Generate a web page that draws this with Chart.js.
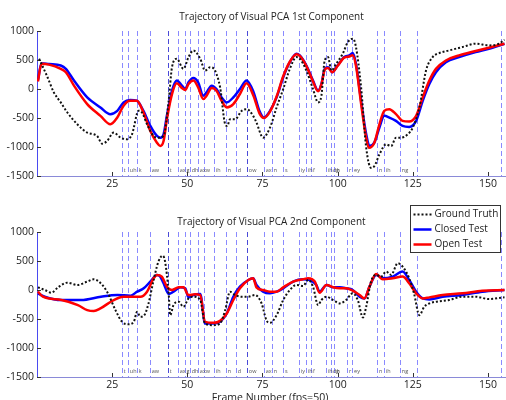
<!DOCTYPE html>
<html><head><meta charset="utf-8">
<script src="https://cdn.jsdelivr.net/npm/chart.js@4.4.1/dist/chart.umd.min.js"></script>
<style>
body{margin:0;background:#fff;width:506px;height:400px;overflow:hidden;position:relative}
.c{position:absolute;left:0;width:506px;height:200px}
</style>
</head><body>
<div class="c" style="top:0"><canvas id="c1"></canvas></div>
<div class="c" style="top:200px"><canvas id="c2"></canvas></div>
<script>
// ---------- data ----------
const titleTop = "Trajectory of Visual PCA 1st Component";
const titleBottom = "Trajectory of Visual PCA 2nd Component";
const xAxisTitle = "Frame Number (fps=50)";
const seriesNames = ["Ground Truth", "Closed Test", "Open Test"];
const xTicks = [25, 50, 75, 100, 125, 150];
const yTicks = [-1500, -1000, -500, 0, 500, 1000];

// phoneme boundaries (frame) and labels that follow them
const boundaryFrames = [28.2,30.2,33.2,37.5,43.5,46.8,49.1,50.8,53.5,55.5,58.8,62.8,66.1,69.8,75.4,78.1,81.8,87.1,89.4,91.1,96.1,97.8,98.8,103.1,104.8,113.1,115.4,120.7,126.4,154.3];
const phonemeLabels  = ["t","uh","k","aw","t","ax","g","dh","ax","w","ih","n","d","ow","ax","n","s","iy","ih","f","ih","dh","g","r","ey","n","ih","ng","",""];
const wordBoundaries = [43.5, 69.8];

// 1st component
const gt1X = [0.7,3.5,5.6,7.9,10.1,13.4,16.7,18.9,20,21.7,23.3,25.5,27.8,30,31.6,33.8,34.9,36.6,38.8,40.4,42.1,43.8,44.9,46.5,48.7,50.4,52,54.3,55.9,57.6,59.2,60.9,62.6,63.3,64.2,65.9,68.1,69.7,71.9,73,75.2,77.5,79.7,81.9,84.1,86.3,87.4,89.6,91.8,93.5,94.6,95.7,96.8,97.9,99.5,101.7,103.4,105.1,106.1,107.8,109.5,111.1,112.2,113.9,116.1,117.8,119.4,121.1,123.3,125,127.2,129.4,131.6,133.8,137.1,141.5,145.9,150.3,153.7,155.5];
const gt1Y = [521,203,-58,-231,-405,-608,-752,-781,-810,-943,-897,-752,-839,-868,-781,-376,-405,-608,-810,-839,-810,-203,376,521,347,550,665,521,318,376,318,29,-608,-637,-521,-521,-376,-347,-463,-579,-839,-665,-318,0,347,550,521,318,0,-231,-116,492,550,318,434,608,810,868,723,29,-1013,-1360,-1331,-1128,-955,-984,-839,-839,-781,-665,-318,318,550,619,665,723,781,752,781,850];
const closed1X = [0.3,1.5,4,7.9,9.6,12.3,16.7,21.1,24.4,26.7,28.8,31,33.2,35.4,37.7,39.9,41,42.1,43.2,44.9,46.5,48.2,49.3,50.4,52,53.6,55.3,56.4,58.1,59.7,61.4,63.1,65.3,67.5,69.7,72,74,75.5,77.5,79.7,81.9,84.1,86.3,87.4,89.6,91.8,93.5,94.6,95.7,96.8,98.2,100,102.2,103.9,105,106.1,107.8,109.5,110.6,112.2,113.9,115.5,117.2,119.4,121.6,123.8,126.1,128.3,130.5,132.7,136,140.4,145.9,150.3,155.5];
const closed1Y = [145,445,430,405,347,145,-145,-318,-434,-376,-231,-191,-203,-376,-637,-810,-839,-781,-463,-29,145,58,0,116,191,116,-116,-58,58,0,-145,-231,-145,0,145,-50,-380,-492,-376,-145,202,463,608,579,405,145,-29,87,347,376,289,405,550,579,619,434,-203,-781,-984,-926,-665,-463,-492,-550,-637,-654,-550,-203,87,289,463,550,637,694,780];
const open1X = [0.3,1.5,4,7.9,9.6,12.3,16.7,21.1,24.4,26.7,28.8,31,33.2,35.4,37.7,39.9,41,42.1,43.2,44.9,46.5,48.2,49.3,50.4,52,53.6,55.3,56.4,58.1,59.7,61.4,63.1,65.3,67.5,69.7,72,74,75.5,77.5,79.7,81.9,84.1,86.3,87.4,89.6,91.8,93.5,94.6,95.7,96.8,98.2,100,102.2,103.9,105,106.1,107.8,109.5,110.4,112.2,113.9,115.5,117.2,119.4,121.6,123.8,126.1,128.3,130.5,132.7,136,140.4,145.9,150.3,155.5];
const open1Y = [130,434,420,347,289,58,-260,-463,-608,-492,-289,-203,-203,-405,-723,-926,-984,-897,-521,-87,98,17,-17,87,145,29,-174,-116,17,-29,-203,-318,-260,-87,98,-116,-420,-500,-390,-130,220,470,600,570,395,130,-40,80,330,360,290,400,540,560,580,400,-250,-850,-1013,-926,-608,-376,-347,-434,-550,-562,-463,-145,145,347,492,579,654,712,780];

// 2nd component
const gt2X = [0.3,2.6,4.8,7,10.1,13.4,16.7,18.9,20.6,23.3,26.1,28.3,30.5,32.2,33.3,34.4,35.7,37.1,38.8,40.4,41.8,42.6,43.8,44.3,45.4,47.1,48.7,50.4,52,54.3,55.9,58.7,60.9,62.6,64.2,65.9,68.1,70.3,72.5,74.7,76.3,77.5,79.7,81.9,84.1,86.3,88.5,90.2,91.8,93.5,94.6,96.3,98.5,100.7,102.8,105,106.7,108.4,109.5,111.1,112.8,114.5,116.1,117.8,120,121.6,123.8,125.4,127.2,128.8,130.5,132.7,137.1,141.5,145.9,150.3,155.5];
const gt2Y = [46,0,-46,46,127,87,145,185,145,-29,-347,-549,-590,-549,-376,-462,-434,-231,173,491,590,491,-58,-434,-260,-202,-289,-145,-116,-173,-578,-607,-578,-347,-29,-87,-116,-116,-87,-231,-520,-566,-434,-173,0,87,69,173,58,-260,-173,-116,-173,-231,-173,-58,-173,-474,-289,145,260,231,318,260,462,405,202,-58,-434,-289,-231,-202,-173,-116,-116,-156,-127];
const closed2X = [0.3,2.6,8.1,14.7,21.3,26.7,31.1,33.3,35.5,37.7,39.9,41,42.1,43.8,45.4,47.7,49.3,50.4,52,54.3,55.9,58.7,60.9,63.1,65.3,67.5,70.3,71.9,73,75.2,77.5,79.7,81.9,85.2,88.5,90.7,92.9,94,96.3,98.5,100.7,102.8,105,107.3,108.9,110.6,112.8,115,118.3,121.6,123.8,126.1,128.3,130.5,134.9,141.5,148.1,155.5];
const closed2Y = [-58,-116,-173,-173,-116,-87,-98,-29,29,145,260,231,116,-69,-29,46,29,-127,-87,-69,-578,-578,-549,-405,-116,58,173,202,87,-29,-58,-29,29,145,185,173,87,-29,87,46,46,29,0,-116,-145,58,260,202,231,318,173,-29,-145,-162,-116,-87,-29,0];
const open2X = [0.3,2,8.1,13.6,16.7,18.9,21.1,25.5,28.8,31.1,34.4,36.6,38.8,39.9,41.5,43.2,44.9,47.1,48.7,50.4,52.6,54.3,55.9,58.7,60.9,63.1,65.3,67.5,70.3,71.9,73,75.2,77.5,79.7,81.9,85.2,88.5,90.2,92.4,94,96.3,98.5,100.7,102.8,105,107.3,108.9,110.6,112.8,115,118.3,121.6,123.8,126.1,128.3,130.5,134.9,141.5,148.1,155.5];
const open2Y = [-29,-116,-173,-260,-347,-364,-318,-173,-116,-116,-116,-29,202,260,231,58,0,46,46,-87,-75,-87,-549,-566,-532,-405,-173,29,173,202,46,0,-29,-29,46,145,185,202,145,-46,87,46,29,29,-12,-87,-145,58,277,185,202,231,116,-58,-145,-127,-87,-58,-12,0];

// ---------- rendering ----------
const FONT = "'Open Sans', 'Noto Sans', sans-serif";
const zip = (xs, ys) => xs.map((x, i) => ({x, y: ys[i]}));

const styles = [
  {borderColor:'#111', borderWidth:2, borderDash:[2,2], order:0},
  {borderColor:'#0000ff', borderWidth:2.5, order:2},
  {borderColor:'#ff0000', borderWidth:2.5, order:1}
];

const decorPlugin = {
  id: 'decor',
  beforeDatasetsDraw(chart) {
    const {ctx, chartArea: a, scales: {x, y}} = chart;
    ctx.save();
    ctx.lineWidth = 1;
    ctx.setLineDash([5, 3]);
    boundaryFrames.forEach(f => {
      const px = Math.round(x.getPixelForValue(f)) + 0.5;
      ctx.strokeStyle = wordBoundaries.includes(f) ? '#4a4ad8' : '#8a8aff';
      ctx.beginPath(); ctx.moveTo(px, a.top); ctx.lineTo(px, a.bottom); ctx.stroke();
    });
    ctx.setLineDash([]);
    ctx.fillStyle = '#555';
    ctx.font = "5.5px " + FONT;
    ctx.textBaseline = 'alphabetic';
    boundaryFrames.forEach((f, i) => {
      const px = x.getPixelForValue(f);
      if (phonemeLabels[i]) ctx.fillText(phonemeLabels[i], px + 2, a.bottom - 4);
    });
    // inward tick marks
    ctx.strokeStyle = '#333';
    xTicks.forEach(v => {
      const px = Math.round(x.getPixelForValue(v)) + 0.5;
      ctx.beginPath(); ctx.moveTo(px, a.bottom); ctx.lineTo(px, a.bottom - 4); ctx.stroke();
    });
    yTicks.forEach(v => {
      const py = Math.round(y.getPixelForValue(v)) + 0.5;
      ctx.beginPath(); ctx.moveTo(a.left, py); ctx.lineTo(a.left + 4, py); ctx.stroke();
    });
    ctx.restore();
  },
  afterDraw(chart) {
    const o = chart.options.plugins.decor;
    const {ctx, chartArea: a} = chart;
    ctx.save();
    ctx.fillStyle = '#222';
    ctx.font = "10px " + FONT;
    ctx.textAlign = 'center';
    ctx.textBaseline = 'middle';
    ctx.fillText(o.title, (a.left + a.right) / 2, o.titleY);
    if (o.xTitle) {
      ctx.font = "10.5px " + FONT;
      ctx.fillText(o.xTitle, 270, o.xTitleY);
    }
    if (o.legend) {
      const bx = 410.5, by = 5.5, bw = 90, bh = 47;
      ctx.fillStyle = '#fff';
      ctx.fillRect(bx, by, bw, bh);
      ctx.strokeStyle = '#333'; ctx.lineWidth = 1;
      ctx.strokeRect(bx, by, bw, bh);
      ctx.textAlign = 'left';
      ctx.font = "10px " + FONT;
      seriesNames.forEach((name, i) => {
        const yy = by + 9 + i * 15;
        const s = styles[i];
        ctx.strokeStyle = s.borderColor; ctx.lineWidth = s.borderWidth;
        ctx.setLineDash(s.borderDash || []);
        ctx.beginPath(); ctx.moveTo(bx + 3, yy); ctx.lineTo(bx + 21, yy); ctx.stroke();
        ctx.setLineDash([]);
        ctx.fillStyle = '#222';
        ctx.fillText(name, bx + 24, yy);
      });
    }
    ctx.restore();
  }
};

function makeChart(id, series, opt) {
  return new Chart(document.getElementById(id), {
    type: 'line',
    data: {
      datasets: series.map((s, i) => Object.assign({
        label: seriesNames[i], data: zip(s[0], s[1]),
        pointRadius: 0, fill: false, cubicInterpolationMode: 'monotone'
      }, styles[i]))
    },
    options: {
      responsive: true, maintainAspectRatio: false, animation: false,
      layout: {padding: {top: opt.top, left: 0, right: 0, bottom: 0}},
      plugins: {legend: {display: false}, tooltip: {enabled: false},
        decor: {title: opt.title, titleY: opt.titleY, xTitle: opt.xTitle, xTitleY: opt.xTitleY, legend: opt.legend}},
      scales: {
        x: {type: 'linear', min: 0, max: 156,
          grid: {display: false, drawTicks: false},
          border: {display: true, color: '#8a8ad8', width: 1},
          afterBuildTicks: s => { s.ticks = xTicks.map(v => ({value: v})); },
          afterFit: s => { s.height = opt.xh; },
          ticks: {color: '#222', font: {family: FONT, size: 10.5}, padding: 2, maxRotation: 0, autoSkip: false,
            callback: v => String(v)}},
        y: {type: 'linear', min: -1500, max: 1000,
          grid: {display: false, drawTicks: false},
          border: {display: true, color: '#4a4af0', width: 1},
          afterBuildTicks: s => { s.ticks = yTicks.map(v => ({value: v})); },
          afterFit: s => { s.width = 37; },
          ticks: {color: '#222', font: {family: FONT, size: 10.5}, padding: 3,
            callback: v => String(v)}}
      }
    },
    plugins: [decorPlugin]
  });
}

makeChart('c1', [[gt1X, gt1Y], [closed1X, closed1Y], [open1X, open1Y]],
  {top: 31, xh: 24, title: titleTop, titleY: 17});
makeChart('c2', [[gt2X, gt2Y], [closed2X, closed2Y], [open2X, open2Y]],
  {top: 32, xh: 23, title: titleBottom, titleY: 22, xTitle: xAxisTitle, xTitleY: 198, legend: true});
</script>
</body></html>
